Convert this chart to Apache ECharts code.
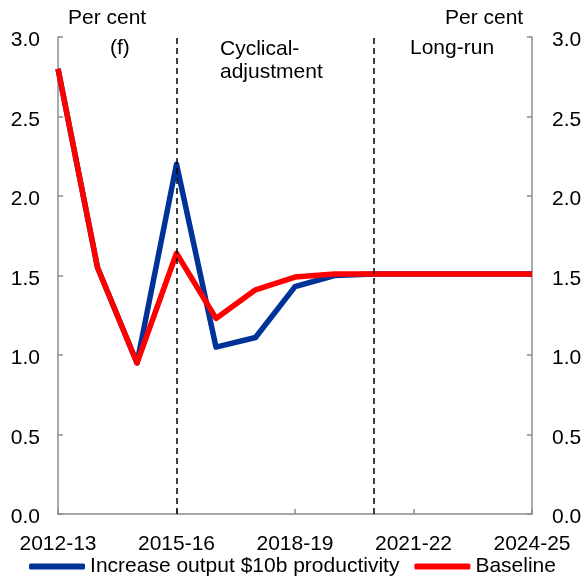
<!DOCTYPE html>
<html>
<head>
<meta charset="utf-8">
<script src="https://cdn.jsdelivr.net/npm/echarts@6/dist/echarts.min.js"></script>
<style>
  html, body { margin: 0; padding: 0; background: #fff; }
  #chart { width: 585px; height: 588px; }
</style>
</head>
<body>
<div id="chart"></div>
<script>
// financial years shown on the x axis
const years = ['2012-13', '2013-14', '2014-15', '2015-16', '2016-17', '2017-18', '2018-19',
  '2019-20', '2020-21', '2021-22', '2022-23', '2023-24', '2024-25'];
const productivity = [2.80, 1.55, 0.95, 2.20, 1.05, 1.11, 1.43, 1.50, 1.51, 1.51, 1.51, 1.51, 1.51];
const baseline = [2.80, 1.55, 0.95, 1.64, 1.23, 1.41, 1.49, 1.51, 1.51, 1.51, 1.51, 1.51, 1.51];
// dashed period dividers
const dividers = ['2015-16', '2020-21'];

const font = 'Liberation Sans, Arial, sans-serif';
const axisGrey = '#8c8c8c';

const chart = echarts.init(document.getElementById('chart'));

const yAxisBase = {
  type: 'value',
  min: 0,
  max: 3,
  interval: 0.5,
  axisLine: { show: true, lineStyle: { color: axisGrey, width: 1.5 } },
  axisTick: { show: true, inside: true, length: 5, lineStyle: { color: axisGrey, width: 1.5 } },
  splitLine: { show: false },
  axisLabel: {
    formatter: v => '{n|' + v.toFixed(1) + '}',
    rich: { n: { fontFamily: font, fontSize: 21, color: '#000', padding: [7, 0, 0, 0] } }
  }
};

chart.setOption({
  animation: false,
  grid: { left: 58, right: 53, top: 37, bottom: 74 },
  xAxis: {
    type: 'category',
    data: years,
    boundaryGap: false,
    axisLine: { lineStyle: { color: axisGrey, width: 1.5 } },
    axisTick: { inside: true, length: 5, interval: 2, lineStyle: { color: axisGrey, width: 1.5 } },
    axisLabel: { interval: 2, margin: 20, fontFamily: font, fontSize: 21, color: '#000' }
  },
  yAxis: [
    Object.assign({}, yAxisBase, { position: 'left', axisLabel: Object.assign({}, yAxisBase.axisLabel, { margin: 18 }) }),
    Object.assign({}, yAxisBase, { position: 'right', axisLabel: Object.assign({}, yAxisBase.axisLabel, { margin: 20 }) })
  ],
  legend: {
    bottom: 6,
    left: 'center',
    itemWidth: 56,
    itemHeight: 6,
    itemGap: 15,
    icon: 'roundRect',
    textStyle: { fontFamily: font, fontSize: 21, color: '#000' },
    data: ['Increase output $10b productivity', 'Baseline']
  },
  graphic: [
    { type: 'text', left: 68, top: 8, style: { text: 'Per cent', font: '21px ' + font, fill: '#000' } },
    { type: 'text', left: 445, top: 8, style: { text: 'Per cent', font: '21px ' + font, fill: '#000' } },
    { type: 'text', left: 110, top: 38, style: { text: '(f)', font: '21px ' + font, fill: '#000' } },
    { type: 'text', left: 220, top: 37, style: { text: 'Cyclical-\nadjustment', font: '21px ' + font, fill: '#000', lineHeight: 23.5 } },
    { type: 'text', left: 410, top: 38, style: { text: 'Long-run', font: '21px ' + font, fill: '#000' } }
  ],
  series: [
    {
      name: 'Increase output $10b productivity',
      type: 'line',
      data: productivity,
      showSymbol: false,
      lineStyle: { color: '#003399', width: 5.5, join: 'round' },
      itemStyle: { color: '#003399' },
      markLine: {
        silent: true,
        symbol: 'none',
        label: { show: false },
        lineStyle: { color: '#000', type: [6, 4], width: 1.5 },
        data: dividers.map(d => ({ xAxis: d }))
      }
    },
    {
      name: 'Baseline',
      type: 'line',
      data: baseline,
      showSymbol: false,
      lineStyle: { color: '#ff0000', width: 5.5, join: 'round' },
      itemStyle: { color: '#ff0000' }
    }
  ]
});
</script>
</body>
</html>
